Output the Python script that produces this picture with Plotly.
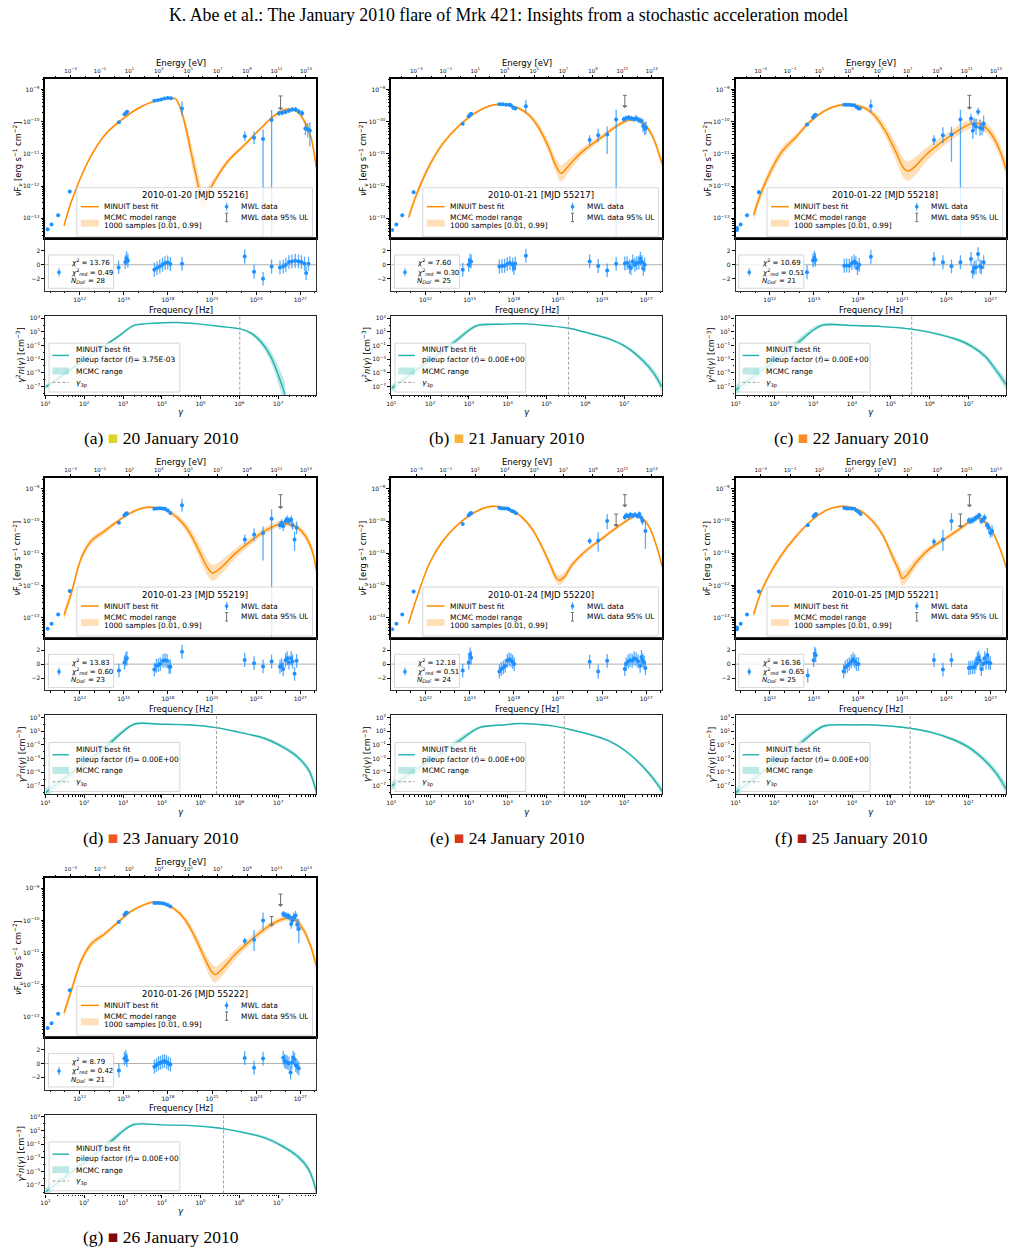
import numpy as np
import plotly.graph_objects as go

# ------------------------------------------------------------------ DATA
# all frequencies / fluxes / gammas / densities are log10 values
TITLE = "K. Abe et al.: The January 2010 flare of Mrk 421: Insights from a stochastic acceleration model"
LETTERS = ["a", "b", "c", "d", "e", "f", "g"]
DAYS = ["20", "21", "22", "23", "24", "25", "26"]
MJD = ["55216", "55217", "55218", "55219", "55220", "55221", "55222"]
CHI2 = ["13.76", "7.60", "10.69", "13.83", "12.18", "16.36", "8.79"]
CHI2_RED = ["0.49", "0.30", "0.51", "0.60", "0.51", "0.65", "0.42"]
NDOF = ["28", "25", "21", "23", "24", "25", "21"]
PILEUP = ["3.75E-03", "0.00E+00", "0.00E+00", "0.00E+00", "0.00E+00", "0.00E+00", "0.00E+00"]
G3P = [6.01, 5.57, 5.54, 5.41, 5.46, 5.50, 5.59]
RES_ERR = 1.0

# ---- (a)
A_MOD_NU = [10.94, 11.44, 12.57, 13.70, 14.83, 15.96, 17.08, 17.76, 18.21, 18.55, 18.89, 19.23, 19.57, 19.91, 20.24, 20.40, 20.70, 21.15, 22.05, 23.18, 24.31, 25.21, 25.89, 26.34, 26.79, 27.24, 27.69, 28.08]
A_MOD_F = [-13.23, -12.48, -11.24, -10.42, -9.95, -9.59, -9.36, -9.29, -9.26, -9.30, -9.64, -10.21, -10.93, -11.66, -12.28, -12.45, -12.23, -11.86, -11.24, -10.73, -10.21, -9.82, -9.64, -9.61, -9.69, -9.95, -10.42, -11.40]
A_BAND_W = [0.08, 0.07, 0.06, 0.05, 0.04, 0.04, 0.03, 0.03, 0.03, 0.04, 0.10, 0.20, 0.30, 0.35, 0.30, 0.25, 0.20, 0.12, 0.08, 0.06, 0.05, 0.05, 0.05, 0.05, 0.06, 0.08, 0.12, 0.20]
A_DAT_NU = [9.82, 10.09, 10.54, 11.33, 14.67, 15.05, 15.17, 15.23, 17.08, 17.31, 17.54, 17.76, 17.99, 18.21, 18.96, 23.23, 23.86, 24.47, 25.05, 25.55, 25.78, 26.00, 26.23, 26.45, 26.68, 26.90, 27.13, 27.35, 27.51, 27.65]
A_DAT_F = [-13.34, -13.19, -12.90, -12.17, -10.02, -9.77, -9.72, -9.69, -9.35, -9.33, -9.31, -9.28, -9.26, -9.27, -9.59, -10.45, -10.50, -10.54, -9.95, -9.74, -9.72, -9.70, -9.66, -9.62, -9.62, -9.68, -9.74, -10.21, -10.24, -10.27]
A_DAT_ELO = [0.04, 0.03, 0.04, 0.06, 0.03, 0.03, 0.03, 0.03, 0.02, 0.02, 0.02, 0.02, 0.02, 0.02, 0.22, 0.15, 0.20, 5.0, 5.0, 0.08, 0.08, 0.07, 0.07, 0.07, 0.08, 0.08, 0.10, 0.20, 0.25, 0.50]
A_DAT_EHI = [0.04, 0.03, 0.04, 0.06, 0.03, 0.03, 0.03, 0.03, 0.02, 0.02, 0.02, 0.02, 0.02, 0.02, 0.22, 0.15, 0.20, 0.31, 0.31, 0.08, 0.08, 0.07, 0.07, 0.07, 0.08, 0.08, 0.10, 0.20, 0.20, 0.25]
A_UL_NU = [25.66]
A_UL_TOP = [-9.20]
A_UL_BOT = [-9.59]
A_RES_NU = [14.65, 15.10, 15.19, 15.28, 17.08, 17.26, 17.45, 17.63, 17.81, 17.99, 18.17, 18.96, 23.22, 23.86, 24.47, 25.05, 25.62, 25.84, 26.02, 26.23, 26.43, 26.66, 26.88, 27.08, 27.29, 27.40, 27.56]
A_RES = [-0.38, 0.38, 0.95, 0.57, -0.71, -0.48, -0.24, 0.00, 0.24, 0.33, 0.10, 0.14, 1.19, -1.00, -2.00, -0.24, -0.38, -0.24, 0.00, 0.38, 0.48, 0.57, 0.48, 0.38, 0.14, -1.19, 0.14]
A_EL_G = [1.0, 2.61, 2.95, 3.27, 3.81, 4.41, 4.92, 5.52, 6.02, 6.30, 6.55, 6.81, 7.02, 7.18]
A_EL_N = [-7.10, -0.70, 0.64, 1.92, 2.27, 2.36, 2.17, 1.78, 1.43, 0.80, -0.42, -2.62, -5.56, -8.20]
A_EL_W = [0.3, 0.2, 0.2, 0.15, 0.05, 0.05, 0.05, 0.05, 0.10, 0.25, 0.45, 0.80, 1.30, 1.80]

# ---- (b)
B_MOD_NU = [10.85, 11.37, 12.28, 13.18, 14.31, 15.44, 16.34, 17.02, 17.69, 18.37, 19.05, 19.73, 20.40, 20.85, 21.22, 21.76, 22.66, 24.01, 25.14, 25.82, 26.27, 26.84, 27.40, 28.08]
B_MOD_F = [-12.97, -12.28, -11.35, -10.68, -10.11, -9.71, -9.51, -9.46, -9.49, -9.59, -9.80, -10.21, -10.83, -11.35, -11.60, -11.35, -10.93, -10.47, -10.09, -9.95, -9.92, -10.06, -10.42, -11.30]
B_BAND_W = [0.12, 0.12, 0.10, 0.08, 0.05, 0.04, 0.03, 0.03, 0.04, 0.05, 0.08, 0.12, 0.18, 0.22, 0.25, 0.20, 0.12, 0.08, 0.07, 0.06, 0.06, 0.07, 0.10, 0.15]
B_DAT_NU = [9.73, 10.02, 10.42, 11.19, 14.53, 14.94, 15.03, 15.10, 17.02, 17.24, 17.47, 17.69, 17.80, 17.96, 18.10, 18.82, 23.16, 23.74, 24.35, 24.96, 25.48, 25.64, 25.82, 26.00, 26.16, 26.32, 26.50, 26.66, 26.79, 26.90, 26.99]
B_DAT_F = [-13.36, -13.19, -12.90, -12.19, -10.06, -9.83, -9.78, -9.75, -9.46, -9.46, -9.47, -9.47, -9.49, -9.57, -9.59, -9.52, -10.57, -10.42, -10.40, -9.93, -9.92, -9.89, -9.87, -9.90, -9.92, -9.89, -9.95, -9.97, -10.13, -10.21, -10.19]
B_DAT_ELO = [0.04, 0.03, 0.04, 0.06, 0.03, 0.03, 0.03, 0.03, 0.02, 0.02, 0.02, 0.02, 0.02, 0.02, 0.02, 0.20, 0.15, 0.20, 0.60, 5.0, 0.08, 0.08, 0.08, 0.08, 0.08, 0.10, 0.10, 0.10, 0.20, 0.20, 0.20]
B_DAT_EHI = [0.04, 0.03, 0.04, 0.06, 0.03, 0.03, 0.03, 0.03, 0.02, 0.02, 0.02, 0.02, 0.02, 0.02, 0.02, 0.20, 0.15, 0.20, 0.25, 0.30, 0.08, 0.08, 0.08, 0.08, 0.08, 0.10, 0.10, 0.10, 0.20, 0.20, 0.20]
B_UL_NU = [25.55]
B_UL_TOP = [-9.18]
B_UL_BOT = [-9.52]
B_RES_NU = [14.53, 14.94, 15.03, 15.10, 17.02, 17.20, 17.38, 17.56, 17.74, 17.92, 18.01, 18.10, 18.82, 23.16, 23.74, 24.35, 24.96, 25.55, 25.71, 25.87, 25.96, 26.09, 26.23, 26.36, 26.50, 26.61, 26.72, 26.81, 26.90]
B_RES = [-0.71, 0.00, 0.57, 0.48, -0.24, -0.19, -0.14, 0.10, 0.24, 0.00, -0.48, 0.14, 1.29, 0.48, -0.19, -0.81, 0.14, 0.19, 0.24, -0.24, -0.48, 0.48, 0.00, 0.24, 0.33, 0.86, 0.38, -0.57, 0.00]
B_EL_G = [1.0, 2.59, 3.19, 3.78, 4.47, 5.07, 5.58, 6.10, 6.61, 7.04, 7.47, 7.77, 7.97]
B_EL_N = [-7.27, -0.65, 1.88, 2.12, 2.17, 1.88, 1.53, 0.80, -0.03, -1.16, -3.11, -5.07, -7.02]
B_EL_W = [0.5, 0.4, 0.25, 0.06, 0.06, 0.07, 0.08, 0.12, 0.16, 0.25, 0.40, 0.55, 0.75]

# ---- (c)
C_MOD_NU = [10.90, 11.53, 12.66, 13.11, 13.79, 14.69, 15.82, 16.72, 17.17, 17.85, 18.53, 19.21, 19.88, 20.56, 21.12, 21.42, 21.92, 22.59, 23.72, 24.85, 25.53, 25.98, 26.54, 27.11, 27.67, 28.08]
C_MOD_F = [-12.90, -12.07, -11.04, -10.78, -10.47, -10.02, -9.64, -9.49, -9.47, -9.49, -9.59, -9.85, -10.31, -10.93, -11.45, -11.53, -11.37, -11.04, -10.62, -10.26, -10.09, -10.05, -10.13, -10.42, -10.93, -11.50]
C_BAND_W = [0.18, 0.17, 0.15, 0.13, 0.10, 0.07, 0.05, 0.04, 0.04, 0.05, 0.07, 0.12, 0.18, 0.25, 0.30, 0.30, 0.28, 0.22, 0.17, 0.15, 0.14, 0.14, 0.15, 0.17, 0.20, 0.25]
C_DAT_NU = [9.77, 9.77, 10.02, 10.45, 11.26, 14.53, 14.94, 15.03, 15.12, 17.06, 17.22, 17.40, 17.58, 17.74, 17.89, 18.03, 18.12, 18.87, 23.16, 23.77, 24.35, 24.96, 25.68, 25.80, 25.89, 26.02, 26.16, 26.29, 26.43, 26.54]
C_DAT_F = [-13.36, -13.30, -13.19, -12.90, -12.19, -10.09, -9.87, -9.81, -9.78, -9.47, -9.47, -9.47, -9.49, -9.49, -9.54, -9.59, -9.59, -9.51, -10.57, -10.42, -10.40, -9.93, -9.90, -10.28, -10.09, -10.16, -9.69, -10.19, -10.21, -10.06]
C_DAT_ELO = [0.04, 0.04, 0.03, 0.04, 0.06, 0.03, 0.03, 0.03, 0.03, 0.02, 0.02, 0.02, 0.02, 0.02, 0.02, 0.02, 0.02, 0.20, 0.15, 0.25, 0.84, 5.0, 0.15, 0.25, 0.20, 0.25, 0.12, 0.25, 0.20, 0.25]
C_DAT_EHI = [0.04, 0.04, 0.03, 0.04, 0.06, 0.03, 0.03, 0.03, 0.03, 0.02, 0.02, 0.02, 0.02, 0.02, 0.02, 0.02, 0.02, 0.20, 0.15, 0.25, 0.24, 0.30, 0.15, 0.25, 0.20, 0.25, 0.12, 0.25, 0.20, 0.25]
C_UL_NU = [25.57]
C_UL_TOP = [-9.18]
C_UL_BOT = [-9.57]
C_RES_NU = [14.53, 14.94, 15.03, 15.10, 17.06, 17.22, 17.40, 17.58, 17.74, 17.85, 17.96, 18.08, 18.87, 23.16, 23.77, 24.35, 24.96, 25.68, 25.80, 25.89, 26.02, 26.16, 26.29, 26.38, 26.54]
C_RES = [-1.07, 0.60, 1.00, 0.70, -0.14, -0.10, -0.14, 0.23, 0.47, 0.23, -0.47, 0.00, 1.16, 0.84, 0.37, -0.23, 0.37, 0.84, -1.02, -0.47, -0.37, 1.53, -0.23, -0.37, 0.37]
C_EL_G = [1.0, 2.40, 3.20, 4.02, 4.87, 5.54, 6.16, 6.76, 7.10, 7.44, 7.74, 7.98]
C_EL_N = [-7.51, -1.60, 1.92, 1.92, 1.73, 1.39, 0.75, -0.23, -1.16, -2.62, -4.82, -6.78]
C_EL_W = [0.7, 0.6, 0.25, 0.08, 0.10, 0.13, 0.17, 0.25, 0.32, 0.42, 0.55, 0.80]

# ---- (d)
D_MOD_NU = [10.94, 11.44, 12.12, 12.79, 13.70, 14.60, 15.50, 16.18, 16.63, 17.31, 17.99, 18.66, 19.34, 20.02, 20.70, 21.03, 21.60, 22.50, 23.63, 24.76, 25.66, 26.23, 26.79, 27.36, 27.81, 28.08]
D_MOD_F = [-12.92, -12.23, -11.14, -10.62, -10.31, -10.00, -9.74, -9.61, -9.57, -9.59, -9.69, -9.90, -10.26, -10.83, -11.45, -11.61, -11.45, -11.04, -10.62, -10.26, -10.08, -10.09, -10.19, -10.47, -10.93, -11.50]
D_BAND_W = [0.15, 0.15, 0.12, 0.10, 0.08, 0.06, 0.05, 0.04, 0.04, 0.04, 0.06, 0.10, 0.15, 0.20, 0.25, 0.25, 0.22, 0.15, 0.12, 0.10, 0.09, 0.09, 0.10, 0.12, 0.15, 0.20]
D_DAT_NU = [9.82, 10.09, 10.54, 11.33, 14.67, 15.05, 15.14, 15.21, 17.08, 17.26, 17.45, 17.63, 17.81, 17.99, 18.17, 18.96, 23.23, 23.86, 24.47, 25.05, 25.62, 25.73, 25.84, 26.00, 26.11, 26.23, 26.38, 26.47, 26.61, 26.75]
D_DAT_F = [-13.34, -13.19, -12.90, -12.17, -10.05, -9.82, -9.78, -9.76, -9.62, -9.61, -9.60, -9.61, -9.62, -9.67, -9.75, -9.51, -10.57, -10.42, -10.37, -9.93, -10.13, -10.06, -10.16, -10.00, -9.95, -10.00, -9.95, -10.13, -10.57, -10.21]
D_DAT_ELO = [0.04, 0.03, 0.04, 0.06, 0.03, 0.03, 0.03, 0.03, 0.02, 0.02, 0.02, 0.02, 0.02, 0.02, 0.02, 0.20, 0.15, 0.20, 0.85, 5.0, 0.12, 0.12, 0.15, 0.12, 0.12, 0.12, 0.12, 0.15, 0.35, 0.20]
D_DAT_EHI = [0.04, 0.03, 0.04, 0.06, 0.03, 0.03, 0.03, 0.03, 0.02, 0.02, 0.02, 0.02, 0.02, 0.02, 0.02, 0.20, 0.15, 0.20, 0.20, 0.30, 0.12, 0.12, 0.15, 0.12, 0.12, 0.12, 0.12, 0.15, 0.25, 0.20]
D_UL_NU = [25.66]
D_UL_TOP = [-9.18]
D_UL_BOT = [-9.57]
D_RES_NU = [14.67, 15.05, 15.14, 15.21, 17.08, 17.22, 17.36, 17.49, 17.67, 17.81, 17.94, 18.08, 18.17, 18.96, 23.22, 23.86, 24.47, 25.05, 25.62, 25.73, 25.84, 26.00, 26.11, 26.23, 26.38, 26.47, 26.61, 26.75]
D_RES = [-0.93, 0.23, 0.70, 0.84, -0.79, -0.23, -0.14, 0.00, 0.47, 0.56, 0.47, -0.37, -0.37, 1.77, 0.60, 0.14, -0.33, 0.37, -0.37, -0.14, -0.70, 0.56, 0.84, 0.23, 0.84, 0.37, -1.40, 0.47]
D_EL_G = [1.0, 2.53, 3.28, 3.98, 4.75, 5.40, 5.95, 6.64, 7.07, 7.50, 7.80, 7.99]
D_EL_N = [-8.00, -1.40, 2.02, 2.02, 1.92, 1.53, 0.90, -0.03, -1.16, -2.77, -4.82, -8.00]
D_EL_W = [0.6, 0.5, 0.2, 0.06, 0.08, 0.10, 0.14, 0.22, 0.28, 0.36, 0.50, 0.80]

# ---- (e)
E_MOD_NU = [10.85, 11.37, 12.28, 13.18, 14.08, 14.98, 15.89, 16.56, 17.24, 17.92, 18.60, 19.27, 19.95, 20.52, 20.85, 21.08, 21.42, 21.98, 22.89, 24.01, 25.14, 26.05, 26.38, 26.84, 27.29, 27.74, 28.08]
E_MOD_F = [-13.18, -12.43, -11.30, -10.62, -10.16, -9.83, -9.61, -9.54, -9.57, -9.67, -9.90, -10.26, -10.83, -11.40, -11.74, -11.84, -11.74, -11.35, -10.93, -10.54, -10.16, -9.88, -9.83, -9.95, -10.26, -10.83, -11.40]
E_BAND_W = [0.10, 0.08, 0.07, 0.06, 0.05, 0.04, 0.03, 0.03, 0.03, 0.04, 0.05, 0.07, 0.09, 0.12, 0.14, 0.15, 0.14, 0.10, 0.07, 0.06, 0.05, 0.05, 0.05, 0.05, 0.06, 0.08, 0.10]
E_DAT_NU = [9.73, 10.02, 10.42, 11.19, 14.53, 14.94, 15.03, 15.10, 17.02, 17.20, 17.38, 17.56, 17.69, 17.87, 18.01, 18.15, 23.16, 23.74, 24.35, 25.55, 25.65, 25.80, 25.93, 26.09, 26.25, 26.43, 26.54, 26.66, 26.75, 26.95]
E_DAT_F = [-13.36, -13.19, -12.90, -12.19, -10.09, -9.82, -9.77, -9.75, -9.59, -9.61, -9.61, -9.61, -9.64, -9.69, -9.71, -9.76, -10.62, -10.60, -10.00, -9.88, -9.82, -9.85, -9.80, -9.83, -9.80, -9.85, -9.78, -9.90, -10.00, -10.31]
E_DAT_ELO = [0.04, 0.03, 0.04, 0.06, 0.03, 0.03, 0.03, 0.03, 0.02, 0.02, 0.02, 0.02, 0.02, 0.02, 0.02, 0.02, 0.10, 0.35, 0.25, 0.08, 0.08, 0.08, 0.08, 0.08, 0.08, 0.08, 0.08, 0.10, 0.12, 0.55]
E_DAT_EHI = [0.04, 0.03, 0.04, 0.06, 0.03, 0.03, 0.03, 0.03, 0.02, 0.02, 0.02, 0.02, 0.02, 0.02, 0.02, 0.02, 0.10, 0.25, 0.22, 0.08, 0.08, 0.08, 0.08, 0.08, 0.08, 0.08, 0.08, 0.10, 0.12, 0.30]
E_UL_NU = [25.55, 24.96]
E_UL_TOP = [-9.18, -9.78]
E_UL_BOT = [-9.52, -10.13]
E_RES_NU = [14.53, 14.94, 15.03, 15.10, 17.02, 17.15, 17.29, 17.42, 17.56, 17.69, 17.81, 17.92, 18.03, 23.16, 23.74, 24.35, 25.55, 25.64, 25.78, 25.91, 26.05, 26.18, 26.32, 26.45, 26.59, 26.68, 26.77, 26.86, 26.95]
E_RES = [-0.93, 0.23, 1.40, 0.93, -1.07, -0.70, -0.47, -0.23, 0.47, 0.70, 0.56, 0.33, 0.00, 0.33, -1.07, 0.47, -0.70, 0.00, 0.37, 0.56, 0.47, 0.84, 0.70, 0.37, -0.23, 1.02, 0.56, 0.23, -0.56]
E_EL_G = [1.0, 2.60, 3.27, 3.87, 4.30, 4.73, 5.16, 5.58, 6.10, 6.61, 7.04, 7.47, 7.77, 7.98]
E_EL_N = [-7.02, -1.00, 1.53, 1.92, 2.12, 2.02, 1.78, 1.29, 0.56, -0.42, -1.89, -4.09, -6.05, -7.76]
E_EL_W = [0.6, 0.5, 0.2, 0.05, 0.05, 0.05, 0.06, 0.08, 0.11, 0.15, 0.20, 0.28, 0.38, 0.55]

# ---- (f)
F_MOD_NU = [10.90, 11.53, 12.66, 13.79, 14.92, 15.82, 16.50, 16.95, 17.63, 18.30, 18.98, 19.66, 20.33, 20.79, 21.01, 21.35, 21.92, 22.82, 23.95, 25.08, 25.75, 26.09, 26.54, 27.11, 27.67, 28.08]
F_MOD_F = [-12.90, -12.07, -11.14, -10.47, -9.95, -9.67, -9.56, -9.54, -9.59, -9.72, -10.00, -10.42, -11.09, -11.55, -11.78, -11.66, -11.30, -10.88, -10.54, -10.19, -9.95, -9.90, -10.00, -10.31, -10.88, -11.45]
F_BAND_W = [0.12, 0.10, 0.09, 0.07, 0.05, 0.04, 0.03, 0.03, 0.04, 0.05, 0.07, 0.10, 0.15, 0.20, 0.22, 0.20, 0.15, 0.10, 0.08, 0.07, 0.06, 0.06, 0.06, 0.07, 0.09, 0.12]
F_DAT_NU = [9.77, 9.77, 10.02, 10.45, 11.26, 14.58, 14.98, 15.07, 15.14, 17.06, 17.22, 17.40, 17.58, 17.74, 17.89, 18.03, 18.17, 23.16, 23.77, 24.35, 25.53, 25.64, 25.75, 25.89, 26.02, 26.16, 26.25, 26.38, 26.50, 26.61, 26.77, 26.88, 27.00, 27.11]
F_DAT_F = [-13.36, -13.30, -13.19, -12.90, -12.19, -10.13, -9.85, -9.80, -9.78, -9.59, -9.61, -9.61, -9.61, -9.62, -9.67, -9.72, -9.78, -10.64, -10.57, -10.00, -9.98, -10.00, -9.98, -9.95, -9.90, -9.85, -9.83, -10.00, -9.95, -9.90, -10.13, -10.21, -10.37, -10.31]
F_DAT_ELO = [0.04, 0.04, 0.03, 0.04, 0.06, 0.03, 0.03, 0.03, 0.03, 0.02, 0.02, 0.02, 0.02, 0.02, 0.02, 0.02, 0.02, 0.10, 0.35, 0.30, 0.10, 0.10, 0.10, 0.10, 0.10, 0.10, 0.10, 0.10, 0.12, 0.12, 0.12, 0.15, 0.15, 0.18]
F_DAT_EHI = [0.04, 0.04, 0.03, 0.04, 0.06, 0.03, 0.03, 0.03, 0.03, 0.02, 0.02, 0.02, 0.02, 0.02, 0.02, 0.02, 0.02, 0.10, 0.30, 0.25, 0.10, 0.10, 0.10, 0.10, 0.10, 0.10, 0.10, 0.10, 0.12, 0.12, 0.12, 0.15, 0.15, 0.18]
F_UL_NU = [25.57, 24.96]
F_UL_TOP = [-9.18, -9.78]
F_UL_BOT = [-9.52, -10.16]
F_RES_NU = [14.58, 14.98, 15.05, 15.12, 17.02, 17.13, 17.27, 17.40, 17.54, 17.67, 17.78, 17.90, 18.03, 23.16, 23.77, 24.35, 25.53, 25.66, 25.80, 25.93, 26.02, 26.11, 26.20, 26.29, 26.38, 26.50, 26.61, 26.70, 26.79, 26.88, 26.99]
F_RES = [-1.63, 0.56, 1.49, 1.26, -1.02, -0.47, -0.23, 0.00, 0.37, 0.70, 0.37, 0.00, 0.00, 0.60, -0.79, 0.60, -0.56, -0.47, -0.47, -0.37, 0.10, 0.70, 0.93, 0.47, -0.70, 0.00, 0.84, 0.23, 1.30, 0.23, 0.14]
F_EL_G = [1.0, 2.60, 3.26, 4.02, 4.53, 5.04, 5.49, 6.07, 6.59, 7.02, 7.44, 7.74, 7.98]
F_EL_N = [-8.00, -1.10, 1.73, 1.92, 1.92, 1.73, 1.44, 0.80, -0.18, -1.40, -3.36, -5.31, -7.51]
F_EL_W = [0.6, 0.5, 0.2, 0.05, 0.06, 0.08, 0.11, 0.17, 0.25, 0.32, 0.42, 0.55, 0.80]

# ---- (g)
G_MOD_NU = [10.94, 11.44, 12.12, 12.79, 13.70, 14.60, 15.50, 16.41, 17.08, 17.76, 18.44, 19.12, 19.79, 20.47, 20.92, 21.19, 21.71, 22.50, 23.63, 24.76, 25.66, 26.11, 26.68, 27.24, 27.69, 28.08]
G_MOD_F = [-12.87, -12.17, -11.24, -10.73, -10.42, -10.06, -9.72, -9.51, -9.43, -9.49, -9.64, -9.95, -10.47, -11.14, -11.55, -11.68, -11.50, -11.09, -10.62, -10.21, -9.98, -9.93, -10.00, -10.31, -10.78, -11.40]
G_BAND_W = [0.15, 0.14, 0.12, 0.10, 0.08, 0.06, 0.05, 0.04, 0.04, 0.04, 0.06, 0.10, 0.15, 0.20, 0.25, 0.25, 0.22, 0.16, 0.12, 0.10, 0.09, 0.09, 0.10, 0.12, 0.14, 0.18]
G_DAT_NU = [9.82, 10.09, 10.54, 11.33, 14.67, 15.05, 15.14, 15.21, 17.08, 17.26, 17.45, 17.63, 17.81, 17.99, 18.17, 23.23, 23.86, 24.47, 25.84, 25.96, 26.07, 26.18, 26.29, 26.38, 26.47, 26.56, 26.68, 26.79, 26.90]
G_DAT_F = [-13.34, -13.19, -12.90, -12.17, -10.05, -9.82, -9.77, -9.75, -9.46, -9.46, -9.46, -9.47, -9.49, -9.52, -9.57, -10.64, -10.60, -10.00, -9.80, -9.83, -9.85, -9.87, -9.90, -10.11, -10.00, -9.90, -9.85, -10.13, -10.26]
G_DAT_ELO = [0.04, 0.03, 0.04, 0.06, 0.03, 0.03, 0.03, 0.03, 0.02, 0.02, 0.02, 0.02, 0.02, 0.02, 0.02, 0.10, 0.35, 0.30, 0.10, 0.10, 0.10, 0.10, 0.10, 0.15, 0.12, 0.12, 0.15, 0.20, 0.45]
G_DAT_EHI = [0.04, 0.03, 0.04, 0.06, 0.03, 0.03, 0.03, 0.03, 0.02, 0.02, 0.02, 0.02, 0.02, 0.02, 0.02, 0.10, 0.30, 0.25, 0.10, 0.10, 0.10, 0.10, 0.10, 0.15, 0.12, 0.15, 0.15, 0.20, 0.30]
G_UL_NU = [25.66, 25.05]
G_UL_TOP = [-9.18, -9.88]
G_UL_BOT = [-9.52, -10.13]
G_RES_NU = [14.67, 15.05, 15.14, 15.21, 17.08, 17.22, 17.36, 17.49, 17.63, 17.76, 17.90, 18.03, 18.17, 23.22, 23.86, 24.47, 25.84, 25.93, 26.02, 26.11, 26.23, 26.34, 26.43, 26.52, 26.61, 26.70, 26.79, 26.90]
G_RES = [-1.02, 0.70, 0.93, 0.47, -0.47, -0.23, 0.00, 0.10, 0.23, 0.37, 0.23, 0.00, -0.14, 0.79, -0.60, 0.70, 0.84, 0.37, 0.23, 0.14, 0.00, -1.30, 0.14, 0.84, 0.56, -0.23, -0.47, -0.70]
G_EL_G = [1.0, 2.55, 3.25, 3.98, 4.75, 5.35, 5.61, 6.12, 6.64, 7.07, 7.50, 7.80, 7.99]
G_EL_N = [-8.00, -1.25, 1.83, 1.83, 1.73, 1.44, 1.24, 0.70, -0.03, -1.16, -2.77, -4.82, -8.00]
G_EL_W = [0.6, 0.5, 0.2, 0.06, 0.07, 0.09, 0.10, 0.15, 0.22, 0.28, 0.36, 0.50, 0.80]

# axis limits (log10)
NU_RANGE = [9.68, 28.08]
LOG_H_EV = -14.383          # log10(h [eV s]) : E = h nu
SEDY_RANGE = [-13.62, -8.67]
RES_RANGE = [-3.75, 3.8]
GAM_RANGE = [1.0, 7.98]
NG_RANGE = [-8.2, 3.35]

# ------------------------------------------------------------------ STYLE / GEOMETRY
W, H = 1013, 1253
COL_LEFT = [40.7, 388.3, 734.3]
ROW_TOP = [77.0, 477.0, 877.0]
AX_W = 272.0
SED_H = 159.7
RES_BOT = 212.3
EL_TOP = 237.3
EL_BOT = 316.3

ORANGE = "#ff8c00"
ORANGE_BAND = "rgba(255,140,0,0.28)"
BLUE = "#1e90ff"
BLUE_ERR = "rgba(30,144,255,0.75)"
TEAL = "#20b2aa"
TEAL_BAND = "rgba(32,178,170,0.30)"
UL_GRAY = "#707070"
CAPTION_COLORS = ["#d8d52a", "#f6b53a", "#f98b2b", "#f0561f", "#d7371a", "#b2190f", "#7f0a0a"]
SANS = "DejaVu Sans"
SERIF = "Liberation Serif"
TICK_FONT = dict(family=SANS, size=6, color="#111")
LEG_FS = 7.4
RES_FS = 7.0

PANELS = []
for i, pre in enumerate(["A", "B", "C", "D", "E", "F", "G"]):
    g = globals()
    PANELS.append(dict(
        col=[0, 1, 2, 0, 1, 2, 0][i], row=[0, 0, 0, 1, 1, 1, 2][i],
        mod_nu=g[pre + "_MOD_NU"], mod_f=g[pre + "_MOD_F"], band=g[pre + "_BAND_W"],
        dnu=g[pre + "_DAT_NU"], df=g[pre + "_DAT_F"], delo=g[pre + "_DAT_ELO"], dehi=g[pre + "_DAT_EHI"],
        ulnu=g[pre + "_UL_NU"], ultop=g[pre + "_UL_TOP"], ulbot=g[pre + "_UL_BOT"],
        rnu=g[pre + "_RES_NU"], res=g[pre + "_RES"],
        eg=g[pre + "_EL_G"], en=g[pre + "_EL_N"], ew=g[pre + "_EL_W"],
    ))


def X(px):
    return px / W


def Y(py):
    return 1.0 - py / H


def sup(e):
    s = "\u2212" if e < 0 else ""
    return f"10<sup>{s}{abs(e)}</sup>"


def nm(prefix, n):
    return prefix if n == 1 else f"{prefix}{n}"


def p10(a):
    return 10.0 ** np.asarray(a, dtype=float)


fig = go.Figure()
shapes, annots, layout = [], [], {}


def line_shape(x0, y0, x1, y1, color, width, dash="solid"):
    shapes.append(dict(type="line", xref="paper", yref="paper", x0=X(x0), y0=Y(y0), x1=X(x1), y1=Y(y1),
                       line=dict(color=color, width=width, dash=dash), layer="above"))


def rect_shape(x0, y0, x1, y1, fill, edge=None, ew=0.8):
    shapes.append(dict(type="rect", xref="paper", yref="paper", x0=X(x0), y0=Y(y1), x1=X(x1), y1=Y(y0),
                       fillcolor=fill, line=dict(color=edge if edge else "rgba(0,0,0,0)", width=ew if edge else 0),
                       layer="above"))


def dot_shape(cx, cy, r, color):
    shapes.append(dict(type="circle", xref="paper", yref="paper", x0=X(cx - r), x1=X(cx + r), y0=Y(cy + r), y1=Y(cy - r),
                       fillcolor=color, line=dict(color=color, width=0.5), layer="above"))


def text(px, py, s, size, anchor="left", family=SANS, color="#000", angle=0):
    annots.append(dict(xref="paper", yref="paper", x=X(px), y=Y(py), text=s, showarrow=False,
                       xanchor=anchor, yanchor="middle", textangle=angle,
                       font=dict(family=family, size=size, color=color), borderpad=0))


common_ax = dict(showgrid=False, zeroline=False, ticks="outside", ticklen=3, tickwidth=0.8, tickcolor="#000",
                 tickfont=TICK_FONT)

for p, P in enumerate(PANELS):
    L = COL_LEFT[P["col"]]
    R = L + AX_W
    T = ROW_TOP[P["row"]]
    xs, xe, xr, xg = [4 * p + 1 + k for k in range(4)]
    ys, yr, yg = [3 * p + 1 + k for k in range(3)]
    xdom = [X(L), X(R)]

    # ---------------- axes
    layout[nm("xaxis", xs)] = dict(common_ax, type="log", range=NU_RANGE, domain=xdom, anchor=nm("y", ys),
                                   showticklabels=False, ticks="", showline=True, mirror=True,
                                   linecolor="#000", linewidth=1.8)
    layout[nm("yaxis", ys)] = dict(common_ax, type="log", range=SEDY_RANGE, domain=[Y(T + SED_H), Y(T)],
                                   anchor=nm("x", xs), showline=True, mirror=True, linecolor="#000", linewidth=1.8,
                                   tickmode="array", tickvals=[10.0 ** e for e in range(-13, -8)],
                                   ticktext=[sup(e) for e in range(-13, -8)],
                                   minor=dict(ticks="outside", ticklen=1.5, tickcolor="#000",
                                              tickvals=[m * 10.0 ** e for e in range(-14, -8) for m in range(2, 10)]))
    layout[nm("xaxis", xe)] = dict(common_ax, type="log",
                                   range=[NU_RANGE[0] + LOG_H_EV, NU_RANGE[1] + LOG_H_EV],
                                   overlaying=nm("x", xs), anchor=nm("y", ys), side="top", showline=False,
                                   tickmode="array", tickvals=[10.0 ** e for e in range(-3, 14, 2)],
                                   ticktext=[sup(e) for e in range(-3, 14, 2)], tickfont=dict(TICK_FONT, size=5.5),
                                   minor=dict(ticks="outside", ticklen=1.5, tickcolor="#000",
                                              tickvals=[10.0 ** e for e in range(-5, 14)]))
    layout[nm("xaxis", xr)] = dict(common_ax, type="log", range=NU_RANGE, domain=xdom, anchor=nm("y", yr),
                                   showline=True, mirror=True, linecolor="#333", linewidth=1,
                                   tickmode="array", tickvals=[10.0 ** e for e in range(12, 28, 3)],
                                   ticktext=[sup(e) for e in range(12, 28, 3)],
                                   minor=dict(ticks="outside", ticklen=1.5, tickcolor="#000",
                                              tickvals=[10.0 ** e for e in range(9, 29)]))
    layout[nm("yaxis", yr)] = dict(common_ax, range=RES_RANGE, domain=[Y(T + RES_BOT), Y(T + SED_H)],
                                   anchor=nm("x", xr), showline=True, mirror=True, linecolor="#333", linewidth=1,
                                   tickmode="array", tickvals=[-2, 0, 2], ticktext=["\u22122", "0", "2"])
    layout[nm("xaxis", xg)] = dict(common_ax, type="log", range=GAM_RANGE, domain=xdom, anchor=nm("y", yg),
                                   showline=True, mirror=True, linecolor="#222", linewidth=1.4,
                                   tickmode="array", tickvals=[10.0 ** e for e in range(1, 8)],
                                   ticktext=[sup(e) for e in range(1, 8)],
                                   minor=dict(ticks="outside", ticklen=1.5, tickcolor="#000",
                                              tickvals=[m * 10.0 ** e for e in range(1, 8) for m in range(2, 10)]))
    layout[nm("yaxis", yg)] = dict(common_ax, type="log", range=NG_RANGE, domain=[Y(T + EL_BOT), Y(T + EL_TOP)],
                                   anchor=nm("x", xg), showline=True, mirror=True, linecolor="#222", linewidth=1.4,
                                   tickmode="array", tickvals=[10.0 ** e for e in range(3, -8, -2)],
                                   ticktext=[sup(e) for e in range(3, -8, -2)],
                                   minor=dict(ticks="outside", ticklen=1.5, tickcolor="#000",
                                              tickvals=[10.0 ** e for e in range(-9, 4)]))

    sx, sy = nm("x", xs), nm("y", ys)
    # ---------------- SED traces
    mf = np.asarray(P["mod_f"]); bw = np.asarray(P["band"])
    fig.add_trace(go.Scatter(x=p10(P["mod_nu"]), y=p10(mf - bw), mode="lines", line=dict(width=0, shape="spline"),
                             xaxis=sx, yaxis=sy, showlegend=False, hoverinfo="skip"))
    fig.add_trace(go.Scatter(x=p10(P["mod_nu"]), y=p10(mf + bw), mode="lines", line=dict(width=0, shape="spline"),
                             fill="tonexty", fillcolor=ORANGE_BAND, xaxis=sx, yaxis=sy, showlegend=False,
                             hoverinfo="skip"))
    fig.add_trace(go.Scatter(x=p10(P["mod_nu"]), y=p10(mf), mode="lines",
                             line=dict(color=ORANGE, width=1.5, shape="spline", smoothing=1.0),
                             xaxis=sx, yaxis=sy, showlegend=False))
    df = np.asarray(P["df"])
    yv = p10(df)
    fig.add_trace(go.Scatter(x=p10(P["dnu"]), y=yv, mode="markers",
                             marker=dict(color=BLUE, size=4),
                             error_y=dict(type="data", symmetric=False, array=p10(df + np.asarray(P["dehi"])) - yv,
                                          arrayminus=yv - p10(df - np.asarray(P["delo"])),
                                          color=BLUE_ERR, thickness=1.3, width=0),
                             xaxis=sx, yaxis=sy, showlegend=False))
    ub = p10(P["ulbot"])
    fig.add_trace(go.Scatter(x=p10(P["ulnu"]), y=ub, mode="markers",
                             marker=dict(color=UL_GRAY, size=4, symbol="triangle-down"),
                             error_y=dict(type="data", symmetric=False, array=p10(P["ultop"]) - ub,
                                          arrayminus=[0.0] * len(ub), color=UL_GRAY, thickness=1, width=2),
                             xaxis=sx, yaxis=sy, showlegend=False))
    # dummy point so the energy axis is drawn
    fig.add_trace(go.Scatter(x=[1.0], y=[10.0 ** SEDY_RANGE[0]], mode="markers", marker=dict(opacity=0),
                             xaxis=nm("x", xe), yaxis=sy, showlegend=False, hoverinfo="skip"))

    # ---------------- residuals
    rx, ry = nm("x", xr), nm("y", yr)
    shapes.append(dict(type="line", xref=f"{rx} domain", yref=ry, x0=0, x1=1, y0=0, y1=0,
                       line=dict(color="#b0b0b0", width=1), layer="below"))
    fig.add_trace(go.Scatter(x=p10(P["rnu"]), y=P["res"], mode="markers", marker=dict(color=BLUE, size=4),
                             error_y=dict(type="constant", value=RES_ERR, color=BLUE_ERR, thickness=1.3, width=0),
                             xaxis=rx, yaxis=ry, showlegend=False))

    # ---------------- electron spectrum
    gx, gy = nm("x", xg), nm("y", yg)
    en = np.asarray(P["en"]); ew = np.asarray(P["ew"])
    fig.add_trace(go.Scatter(x=p10(P["eg"]), y=p10(en - ew), mode="lines", line=dict(width=0, shape="spline"),
                             xaxis=gx, yaxis=gy, showlegend=False, hoverinfo="skip"))
    fig.add_trace(go.Scatter(x=p10(P["eg"]), y=p10(en + ew), mode="lines", line=dict(width=0, shape="spline"),
                             fill="tonexty", fillcolor=TEAL_BAND, xaxis=gx, yaxis=gy, showlegend=False,
                             hoverinfo="skip"))
    fig.add_trace(go.Scatter(x=p10(P["eg"]), y=p10(en), mode="lines",
                             line=dict(color=TEAL, width=1.4, shape="spline", smoothing=0.8),
                             xaxis=gx, yaxis=gy, showlegend=False))
    shapes.append(dict(type="line", xref=gx, yref=f"{gy} domain", x0=10.0 ** G3P[p], x1=10.0 ** G3P[p], y0=0, y1=1,
                       line=dict(color="#a0a0a0", width=1, dash="3px,2px"), layer="above"))

    # ---------------- axis titles
    cx = (L + R) / 2
    text(cx, T - 16, "Energy [eV]", 8.5, "center")
    text(cx, T + 231, "Frequency [Hz]", 8.5, "center")
    text(cx, T + 334, "<i>γ</i>", 8.5, "center")
    text(L - 28, T + SED_H / 2, "<i>ν</i>F<sub><i>ν</i></sub> [erg s<sup>\u22121</sup> cm<sup>\u22122</sup>]", 8.3,
         "center", angle=-90)
    text(L - 25, T + (EL_TOP + EL_BOT) / 2, "<i>γ</i><sup>2</sup><i>n</i>(<i>γ</i>) [cm<sup>\u22123</sup>]", 8.3,
         "center", angle=-90)

    # ---------------- SED legend
    rect_shape(L + 31.5, T + 109, L + 268.3, T + 158, "rgba(255,255,255,0.8)", "#cccccc", 0.8)
    text(L + 150, T + 116.5, f"2010-01-{DAYS[p]} [MJD {MJD[p]}]", 8.6, "center")
    line_shape(L + 35.5, T + 128, L + 53.5, T + 128, ORANGE, 1.5)
    text(L + 57.6, T + 128, "MINUIT best fit", LEG_FS)
    rect_shape(L + 35.5, T + 141, L + 53.5, T + 148, ORANGE_BAND)
    text(L + 57.6, T + 139, "MCMC model range", LEG_FS)
    text(L + 57.6, T + 147.3, "1000 samples [0.01, 0.99]", LEG_FS)
    line_shape(L + 182, T + 124, L + 182, T + 132, BLUE_ERR, 1.2)
    dot_shape(L + 182, T + 128, 1.6, BLUE)
    text(L + 195.3, T + 128, "MWL data", LEG_FS)
    line_shape(L + 182, T + 134.5, L + 182, T + 143, UL_GRAY, 1)
    line_shape(L + 180.5, T + 134.5, L + 183.5, T + 134.5, UL_GRAY, 1)
    line_shape(L + 180.5, T + 143, L + 183.5, T + 143, UL_GRAY, 1)
    text(L + 195.3, T + 138.7, "MWL data 95% UL", LEG_FS)

    # ---------------- residual legend
    rect_shape(L + 3, T + 176.3, L + 68.5, T + 209.7, "rgba(255,255,255,0.8)", "#cccccc", 0.8)
    line_shape(L + 13.6, T + 189.7, L + 13.6, T + 197.7, BLUE_ERR, 1.2)
    dot_shape(L + 13.6, T + 193.7, 1.6, BLUE)
    text(L + 25, T + 183.7, f"<i>χ</i><sup>2</sup> = {CHI2[p]}", RES_FS)
    text(L + 25, T + 193.2, f"<i>χ</i><sup>2</sup><sub><i>red</i></sub> = {CHI2_RED[p]}", RES_FS)
    text(L + 25, T + 202.5, f"<i>N</i><sub><i>DoF</i></sub> = {NDOF[p]}", RES_FS)

    # ---------------- electron legend
    E0 = T + EL_TOP
    rect_shape(L + 3.6, E0 + 27.4, L + 135, E0 + 76.4, "rgba(255,255,255,0.8)", "#cccccc", 0.8)
    line_shape(L + 7, E0 + 39.7, L + 23.6, E0 + 39.7, TEAL, 1.4)
    text(L + 29.3, E0 + 34, "MINUIT best fit", LEG_FS)
    text(L + 29.3, E0 + 44, f"pileup factor (<i>f</i>)= {PILEUP[p]}", LEG_FS)
    rect_shape(L + 7, E0 + 51.8, L + 23.6, E0 + 58.8, TEAL_BAND)
    text(L + 29.3, E0 + 55.6, "MCMC range", LEG_FS)
    line_shape(L + 7, E0 + 66.7, L + 23.6, E0 + 66.7, "#a0a0a0", 1, "3px,2px")
    text(L + 29.3, E0 + 67.4, "<i>γ</i><sub>3p</sub>", LEG_FS)

    # ---------------- caption
    text(cx - 19.5, T + 360,
         f"({LETTERS[p]}) <span style='color:{CAPTION_COLORS[p]}'>■</span> {DAYS[p]} January 2010", 17.5,
         "center", family=SERIF)

text(506, 13, TITLE, 17.8, "center", family=SERIF)

fig.update_layout(**layout)
fig.update_layout(width=W, height=H, margin=dict(l=0, r=0, t=0, b=0), paper_bgcolor="white",
                  plot_bgcolor="white", showlegend=False, shapes=shapes, annotations=annots,
                  hovermode=False)
fig.write_html("out.html", config=dict(displayModeBar=False))
